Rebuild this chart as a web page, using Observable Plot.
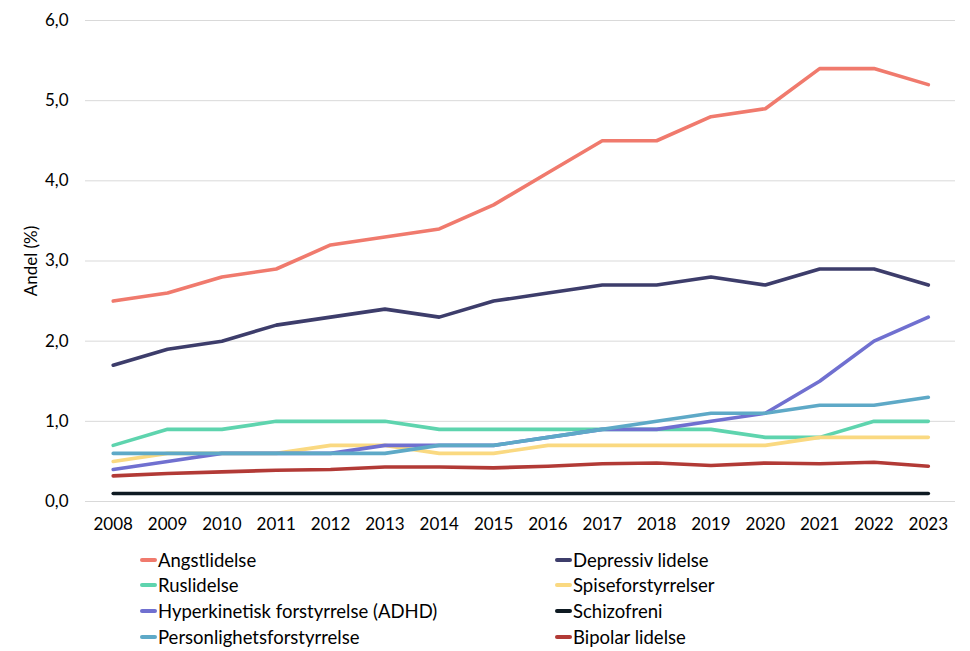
<!DOCTYPE html>
<html>
<head>
<meta charset="utf-8">
<script src="https://cdn.jsdelivr.net/npm/d3@7"></script>
<script src="https://cdn.jsdelivr.net/npm/@observablehq/plot@0.6"></script>
<style>
  html, body { margin: 0; padding: 0; background: #fff; }
  body { width: 970px; height: 651px; overflow: hidden; font-family: Lato, "Open Sans", sans-serif; }
  #chart { position: absolute; left: 0; top: 0; }
  #legend { position: absolute; left: 0; top: 0; width: 970px; height: 651px; pointer-events: none; }
  .item { position: absolute; display: flex; align-items: center; font-size: 18.5px; color: #000; white-space: nowrap; height: 22px; }
  .sw { width: 17px; height: 4px; border-radius: 2px; margin-right: 1px; }
</style>
</head>
<body>
<div id="chart"></div>
<div id="legend"></div>
<script>
const years = [2008,2009,2010,2011,2012,2013,2014,2015,2016,2017,2018,2019,2020,2021,2022,2023];
const seriesNames = ["Angstlidelse","Depressiv lidelse","Ruslidelse","Spiseforstyrrelser","Hyperkinetisk forstyrrelse (ADHD)","Schizofreni","Personlighetsforstyrrelse","Bipolar lidelse"];
const seriesColors = ["#F07A6D","#3D3D6B","#5ED4AE","#FAD981","#7070D0","#0E1A22","#5EA9C7","#B23A36"];
const angst      = [2.5,2.6,2.8,2.9,3.2,3.3,3.4,3.7,4.1,4.5,4.5,4.8,4.9,5.4,5.4,5.2];
const depressiv  = [1.7,1.9,2.0,2.2,2.3,2.4,2.3,2.5,2.6,2.7,2.7,2.8,2.7,2.9,2.9,2.7];
const rus        = [0.7,0.9,0.9,1.0,1.0,1.0,0.9,0.9,0.9,0.9,0.9,0.9,0.8,0.8,1.0,1.0];
const spise      = [0.5,0.6,0.6,0.6,0.7,0.7,0.6,0.6,0.7,0.7,0.7,0.7,0.7,0.8,0.8,0.8];
const adhd       = [0.4,0.5,0.6,0.6,0.6,0.7,0.7,0.7,0.8,0.9,0.9,1.0,1.1,1.5,2.0,2.3];
const schizo     = [0.1,0.1,0.1,0.1,0.1,0.1,0.1,0.1,0.1,0.1,0.1,0.1,0.1,0.1,0.1,0.1];
const person     = [0.6,0.6,0.6,0.6,0.6,0.6,0.7,0.7,0.8,0.9,1.0,1.1,1.1,1.2,1.2,1.3];
const bipolar    = [0.32,0.35,0.37,0.39,0.40,0.43,0.43,0.42,0.44,0.47,0.48,0.45,0.48,0.47,0.49,0.44];
const yTicks = [0,1,2,3,4,5,6];

const allValues = [angst, depressiv, rus, spise, adhd, schizo, person, bipolar];
const data = [];
seriesNames.forEach((name, i) => {
  years.forEach((y, j) => data.push({series: name, year: y, value: allValues[i][j]}));
});

const fmt = d => d.toFixed(1).replace(".", ",");

const plot = Plot.plot({
  width: 970,
  height: 540,
  marginLeft: 85,
  marginRight: 15,
  marginTop: 20,
  marginBottom: 39,
  style: {fontFamily: "Lato, 'Open Sans', sans-serif", fontSize: "17px", color: "#000", background: "#fff"},
  x: {domain: [2007.49, 2023.5], ticks: years, tickFormat: d => String(d), tickSize: 0, tickPadding: 16, label: null},
  y: {domain: [0, 6], ticks: yTicks, tickFormat: fmt, tickSize: 0, tickPadding: 17, label: null},
  color: {domain: seriesNames, range: seriesColors},
  marks: [
    Plot.ruleY(yTicks, {stroke: "#d9d9d9", strokeWidth: 1}),
    Plot.line(data, {x: "year", y: "value", z: "series", stroke: "series", strokeWidth: 3.6, strokeLinecap: "round", strokeLinejoin: "round"}),
    Plot.text(["Andel (%)"], {frameAnchor: "left", textAnchor: "middle", dx: -54, rotate: -90, fontSize: 17, fill: "#000"})
  ]
});
document.getElementById("chart").appendChild(plot);

const legend = document.getElementById("legend");
const colX = [140, 555];
const rowY = [560, 585, 611, 637];
seriesNames.forEach((name, i) => {
  const div = document.createElement("div");
  div.className = "item";
  div.style.left = colX[i % 2] + "px";
  div.style.top = (rowY[Math.floor(i / 2)] - 11) + "px";
  div.innerHTML = `<span class="sw" style="background:${seriesColors[i]}"></span><span>${name}</span>`;
  legend.appendChild(div);
});
</script>
</body>
</html>
